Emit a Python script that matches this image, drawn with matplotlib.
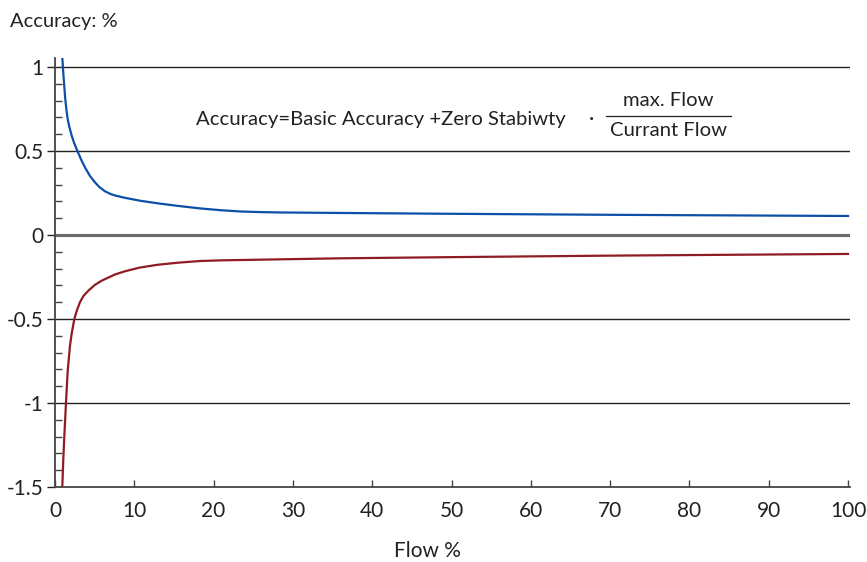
import matplotlib
matplotlib.use("Agg")
import matplotlib.pyplot as plt
import numpy as np

plt.rcParams['font.family'] = ['Lato', 'DejaVu Sans']

# Data
upper_x = [0.92, 1.05, 1.18, 1.3, 1.45, 1.6, 1.8, 2.1, 2.4, 2.86, 3.3, 3.78, 4.4, 5.04, 5.6, 6.3, 7.0,
           7.57, 8.83, 10.7, 13, 15.5, 18.3, 21, 23.3, 26, 28.4, 35.9, 50, 70, 100]
upper_y = [1.058, 0.96, 0.879, 0.807, 0.74, 0.69, 0.645, 0.592, 0.549, 0.496, 0.448, 0.402, 0.352, 0.313,
           0.285, 0.26, 0.244, 0.235, 0.221, 0.204, 0.188, 0.173, 0.158, 0.147, 0.140, 0.136, 0.134, 0.131,
           0.126, 0.120, 0.113]
lower_x = [0.92, 1.05, 1.18, 1.39, 1.6, 1.89, 2.1, 2.44, 2.75, 3.15, 3.6, 4.2, 5.0, 5.89, 7.57, 8.83,
           10.7, 13, 15.5, 18.3, 21, 25.9, 35.9, 50, 70, 100]
lower_y = [-1.5, -1.33, -1.195, -0.996, -0.81, -0.659, -0.588, -0.5, -0.45, -0.4, -0.362, -0.332, -0.298,
           -0.272, -0.235, -0.216, -0.194, -0.177, -0.165, -0.155, -0.151, -0.147, -0.139, -0.132, -0.123,
           -0.113]

x_ticks = [0, 10, 20, 30, 40, 50, 60, 70, 80, 90, 100]
y_ticks = [-1.5, -1, -0.5, 0, 0.5, 1]
y_tick_labels = ['-1.5', '-1', '-0.5', '0', '0.5', '1']

W, H = 867, 562
fig = plt.figure(figsize=(W/100, H/100), dpi=100)
ax = fig.add_axes([55/W, 1-487/H, (850-55)/W, (487-57.7)/H])

for yv in y_ticks[1:]:
    if yv == 0:
        ax.axhline(yv, color='#6b6b6b', lw=2.2, zorder=1)
    else:
        ax.axhline(yv, color='#222222', lw=1.0, zorder=1)

ax.plot(upper_x, upper_y, color='#0d4fa6', lw=1.6, zorder=3, solid_joinstyle='round')
ax.plot(lower_x, lower_y, color='#8e1c22', lw=1.6, zorder=3, solid_joinstyle='round')

ax.set_xlim(0, 100.25)
ax.set_ylim(-1.5, 1.055)

for s in ['top', 'right']:
    ax.spines[s].set_visible(False)
for s in ['left', 'bottom']:
    ax.spines[s].set_color('#444444')
    ax.spines[s].set_linewidth(1.3)

ax.set_xticks(x_ticks)
ax.set_xticklabels([str(v) for v in x_ticks])
ax.set_yticks(y_ticks)
ax.set_yticklabels(y_tick_labels)
ax.set_yticks(np.arange(-1.4, 1.0, 0.1), minor=True)
ax.tick_params(axis='y', which='major', direction='out', length=6, width=1, color='#222222', labelsize=15, pad=2)
ax.tick_params(axis='y', which='minor', direction='in', length=5, width=1, color='#444444')
ax.tick_params(axis='x', which='major', direction='in', length=5, width=1, color='#444444', labelsize=15, pad=10)
for lab in ax.get_xticklabels() + ax.get_yticklabels():
    lab.set_color('#222222')

tc = '#222222'
fig.text(10/W, 1-21/H, 'Accuracy: %', fontsize=14.5, color=tc, va='center', ha='left')
fig.text(427/W, 1-551/H, 'Flow %', fontsize=15, color=tc, va='center', ha='center')

fig.text(196/W, 1-120/H, 'Accuracy=Basic Accuracy +Zero Stabiwty', fontsize=14.6, color=tc, va='center', ha='left')
fig.text(591/W, 1-119/H, '·', fontsize=14.6, color=tc, va='center', ha='center')
fig.text(668/W, 1-101/H, 'max. Flow', fontsize=14.6, color=tc, va='center', ha='center')
fig.text(669/W, 1-131/H, 'Currant Flow', fontsize=14.6, color=tc, va='center', ha='center')
fig.add_artist(plt.Line2D([606/W, 731/W], [1-116/H, 1-116/H], transform=fig.transFigure, color=tc, lw=0.9))

fig.savefig('out.png', dpi=100)
